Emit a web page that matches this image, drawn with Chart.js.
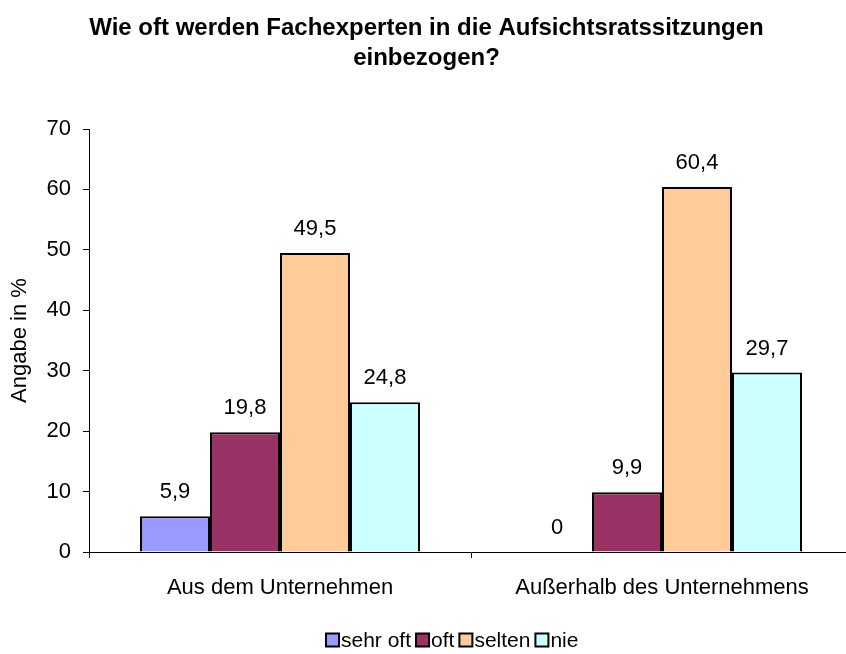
<!DOCTYPE html>
<html lang="de">
<head>
<meta charset="utf-8">
<title>Fachexperten in Aufsichtsratssitzungen</title>
<script src="https://cdn.jsdelivr.net/npm/chart.js@4/dist/chart.umd.min.js"></script>
<style>
  html, body { margin: 0; padding: 0; background: #fff; overflow: hidden; }
  #wrap { width: 860px; height: 654px; }
</style>
</head>
<body>
<div id="wrap"><canvas id="chart" width="860" height="654"></canvas></div>
<script>
const categories = ["Aus dem Unternehmen", "Außerhalb des Unternehmens"];
const seriesNames = ["sehr oft", "oft", "selten", "nie"];
const sehrOft = [5.9, 0];
const oft = [19.8, 9.9];
const selten = [49.5, 60.4];
const nie = [24.8, 29.7];
const seriesColors = ["#9999FF", "#993366", "#FFCC99", "#CCFFFF"];
const yTicks = [0, 10, 20, 30, 40, 50, 60, 70];

const FONT = "'Liberation Sans', Arial, sans-serif";

// numbers above each bar, German decimal comma
const valueLabels = {
  id: "valueLabels",
  afterDatasetsDraw(chart) {
    const ctx = chart.ctx;
    ctx.save();
    ctx.font = "22px " + FONT;
    ctx.fillStyle = "#000";
    ctx.textAlign = "center";
    ctx.textBaseline = "middle";
    chart.data.datasets.forEach((ds, i) => {
      chart.getDatasetMeta(i).data.forEach((bar, j) => {
        const txt = String(ds.data[j]).replace(".", ",");
        ctx.fillText(txt, bar.x, bar.y - 24);
      });
    });
    ctx.restore();
  }
};

// legend row at the bottom: square boxes with black frame
const bottomLegend = {
  id: "bottomLegend",
  afterDraw(chart) {
    const ctx = chart.ctx;
    ctx.save();
    ctx.font = "21px " + FONT;
    ctx.textBaseline = "middle";
    ctx.textAlign = "left";
    const box = 13, gap = 2, spacing = 5, cy = 640;
    let x = 326;
    chart.data.datasets.forEach(ds => {
      ctx.fillStyle = ds.backgroundColor;
      ctx.fillRect(x, cy - box / 2, box, box);
      ctx.lineWidth = 2;
      ctx.strokeStyle = "#000";
      ctx.strokeRect(x, cy - box / 2, box, box);
      x += box + gap;
      ctx.fillStyle = "#000";
      ctx.fillText(ds.label, x, cy + 1);
      x += ctx.measureText(ds.label).width + spacing;
    });
    ctx.restore();
  }
};

const seriesData = [sehrOft, oft, selten, nie];

new Chart(document.getElementById("chart"), {
  type: "bar",
  data: {
    labels: categories,
    datasets: seriesNames.map((name, i) => ({
      label: name,
      data: seriesData[i],
      backgroundColor: seriesColors[i],
      borderColor: "#000",
      borderWidth: 2,
      categoryPercentage: 0.733,
      barPercentage: 1.0
    }))
  },
  options: {
    responsive: false,
    animation: false,
    layout: { padding: { left: 0, right: 7, top: 0, bottom: 0 } },
    plugins: {
      legend: { display: false },
      tooltip: { enabled: false },
      title: {
        display: true,
        text: ["Wie oft werden Fachexperten in die Aufsichtsratssitzungen", "einbezogen?"],
        color: "#000",
        font: { family: FONT, size: 24, weight: "bold", lineHeight: "30px" },
        padding: { top: 13, bottom: 56 }
      }
    },
    scales: {
      x: {
        grid: {
          display: true,
          drawOnChartArea: false,
          drawTicks: true,
          tickLength: 6,
          color: "#000"
        },
        border: { display: true, color: "#000", width: 1 },
        ticks: {
          color: "#000",
          font: { family: FONT, size: 22 },
          padding: 17,
          maxRotation: 0
        },
        afterFit(scale) { scale.height = 102; }
      },
      y: {
        min: 0,
        max: 70,
        afterBuildTicks(scale) { scale.ticks = yTicks.map(v => ({ value: v })); },
        grid: {
          display: true,
          drawOnChartArea: false,
          drawTicks: true,
          tickLength: 6,
          color: "#000"
        },
        border: { display: true, color: "#000", width: 1 },
        ticks: {
          color: "#000",
          font: { family: FONT, size: 22 },
          padding: 12
        },
        title: {
          display: true,
          text: "Angabe in %",
          color: "#000",
          font: { family: FONT, size: 22 },
          padding: { top: 7, bottom: 0 }
        },
        afterFit(scale) { scale.width = 89; }
      }
    }
  },
  plugins: [valueLabels, bottomLegend]
});
</script>
</body>
</html>
